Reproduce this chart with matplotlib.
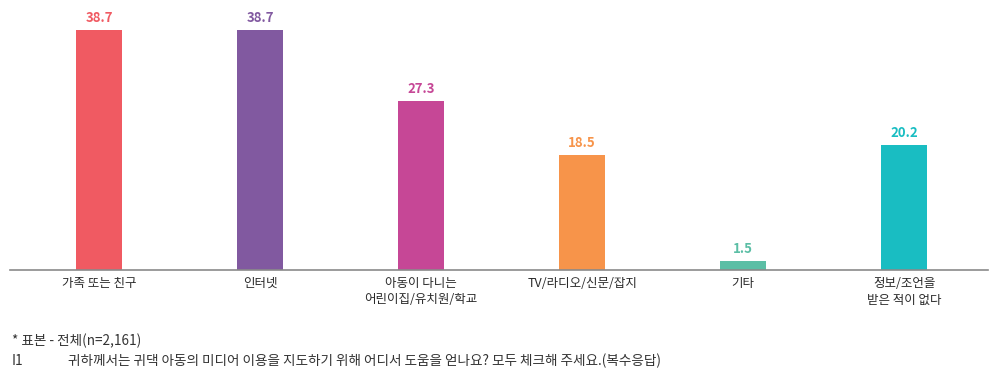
import matplotlib
matplotlib.use('Agg')
import matplotlib.pyplot as plt

plt.rcParams['font.family'] = ['Noto Sans CJK KR', 'DejaVu Sans']

categories = ['가족 또는 친구', '인터넷', '아동이 다니는\n어린이집/유치원/학교',
              'TV/라디오/신문/잡지', '기타', '정보/조언을\n받은 적이 없다']
values = [38.7, 38.7, 27.3, 18.5, 1.5, 20.2]
colors = ['#F05A62', '#8159A0', '#C64796', '#F7944A', '#5BBEA5', '#19BDC2']

fig = plt.figure(figsize=(9.99, 3.73), dpi=100)
ax = fig.add_axes([10/999, 103/373, 978/999, 270/373])

x = list(range(len(values)))
ax.bar(x, values, width=0.286, color=colors)
for xi, v, c in zip(x, values, colors):
    ax.text(xi, v + 0.8, f'{v}', ha='center', va='bottom', color=c,
            fontsize=9.5, fontweight='bold')

ax.set_xlim(-0.553, 5.52)
ax.set_ylim(0, 43.5)
for s in ['top', 'right', 'left']:
    ax.spines[s].set_visible(False)
ax.spines['bottom'].set_color('#8a8a8a')
ax.spines['bottom'].set_linewidth(1.2)
ax.set_yticks([])
ax.set_xticks(x)
ax.set_xticklabels(categories, fontsize=9, color='#2a2a2a', linespacing=1.35,
                   fontweight='medium')
ax.tick_params(axis='x', length=0, pad=5)

note_kw = dict(fontsize=9.8, color='#333333', va='center')
fig.text(12/999, 1 - 341/373, '* 표본 - 전체(n=2,161)', **note_kw)
fig.text(12/999, 1 - 361/373, 'I1', **note_kw)
fig.text(68/999, 1 - 361/373,
         '귀하께서는 귀댁 아동의 미디어 이용을 지도하기 위해 어디서 도움을 얻나요? 모두 체크해 주세요.(복수응답)',
         **note_kw)

fig.savefig('out.png', dpi=100)
